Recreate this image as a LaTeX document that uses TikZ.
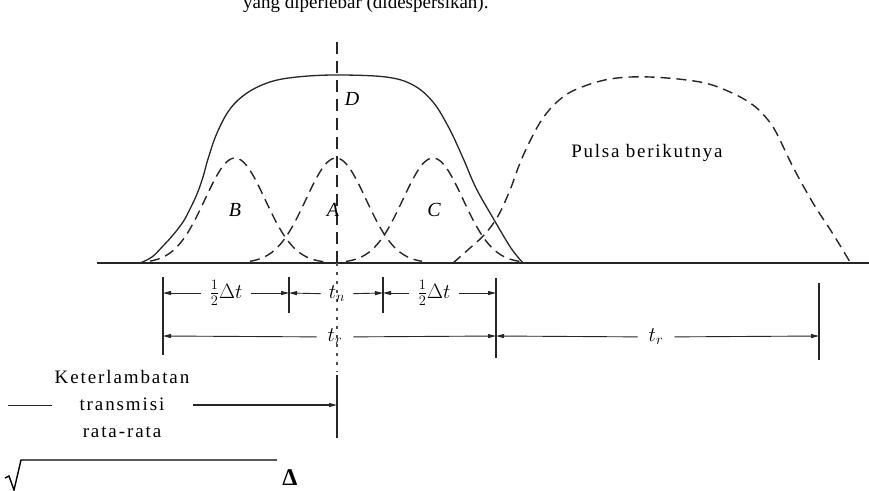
\documentclass[tikz,border=0pt]{standalone}
\usepackage{fontspec}
\setmainfont{Liberation Serif}
\usetikzlibrary{arrows.meta}
\begin{document}
\begin{tikzpicture}[x=1pt,y=-1pt,
  pulseline/.style={line width=1.3pt, black!85},
  dashcurve/.style={line width=1.4pt, black!85, dash pattern=on 10pt off 6pt},
  axisline/.style={line width=1.5pt, black!85},
  tickline/.style={line width=1.2pt, black!85},
  dimarrow/.style={line width=0.9pt, black!85, -{Triangle[length=8pt,width=4pt]}},
  lbl/.style={font=\fontsize{20}{22}\selectfont\itshape, inner sep=0pt},
  dimlbl/.style={font=\fontsize{21}{23}\selectfont, inner ysep=2pt, inner xsep=8pt},
  txt/.style={font=\fontsize{19}{27}\selectfont\addfontfeatures{LetterSpace=10}, align=center, inner sep=1pt}
]
\useasboundingbox (0,0) rectangle (869,490);
\fill[white] (0,0) rectangle (869,490);

% clipped heading line of the page
\node[anchor=base west, inner sep=0pt, font=\fontsize{19}{22}\selectfont] (head) at (243,8) {yang diperlebar (didespersikan).};

% baseline
\coordinate (b0) at (97,263);
\coordinate (b1) at (869,263);
\draw[axisline] (b0) -- (b1);

% centre line
\coordinate (c0) at (337,42);
\coordinate (c1) at (337,263);
\coordinate (c2) at (337,372);
\draw[line width=1.1pt, black!85, dash pattern=on 12pt off 7pt] (c0) -- (c1);
\draw[line width=1.1pt, black!70, dash pattern=on 3pt off 6pt] (c1) -- (c2);

% envelope D
\draw[pulseline] plot[smooth, tension=0.6] coordinates {
 (140,263) (152,257) (163,246) (173,235) (183,222) (190,209) (197,194) (203,177)
 (208,159) (217,133) (230,109) (247,93) (270,82) (297,77) (336,75)
 (386,77) (413,85) (433,102) (449,128) (463,158) (476,188) (493,218)
 (509,245) (517,256) (523,263)};

% component pulses B, A, C
\draw[dashcurve] plot[domain=150:325, samples=70, smooth] (\x, {263-105*exp(-((\x-235)^2)/1800)});
\draw[dashcurve] plot[domain=250:422, samples=70, smooth] (\x, {263-105*exp(-((\x-336)^2)/1800)});
\draw[dashcurve] plot[domain=346:522, samples=70, smooth] (\x, {263-105*exp(-((\x-433)^2)/1800)});

% next pulse
\draw[dashcurve] plot[smooth, tension=0.6] coordinates {
 (453,263) (470,248) (485,234) (498,216) (510,190) (520,163) (531,139) (543,118)
 (558,101) (577,89) (610,79) (650,77) (700,82) (730,92) (753,105) (768,120)
 (777,134) (793,167) (813,203) (833,234) (850,262)};

% curve labels
\node[lbl] (lD) at (352,99) {D};
\node[lbl] (lB) at (235,210) {B};
\node[lbl] (lA) at (333,210) {A};
\node[lbl] (lC) at (434,210) {C};
\node[font=\fontsize{19}{22}\selectfont\addfontfeatures{LetterSpace=9}, inner sep=0pt] (next) at (647,153) {Pulsa berikutnya};

% ticks
\coordinate (t1a) at (163,277); \coordinate (t1b) at (163,355);
\coordinate (t2a) at (289,277); \coordinate (t2b) at (289,313);
\coordinate (t3a) at (383,277); \coordinate (t3b) at (383,313);
\coordinate (t4a) at (496,278); \coordinate (t4b) at (496,358);
\coordinate (t5a) at (819,283); \coordinate (t5b) at (819,360);
\draw[tickline] (t1a) -- (t1b);
\draw[tickline] (t2a) -- (t2b);
\draw[tickline] (t3a) -- (t3b);
\draw[tickline] (t4a) -- (t4b);
\draw[tickline] (t5a) -- (t5b);

% row 1
\coordinate (r1a) at (163,293); \coordinate (r1b) at (289,293);
\coordinate (r1c) at (383,293); \coordinate (r1d) at (496,293);
\node[dimlbl] (h1) at (226,293) {$\frac{1}{2}\Delta t$};
\node[dimlbl] (tn) at (337,294) {$t_n$};
\node[dimlbl] (h2) at (434,293) {$\frac{1}{2}\Delta t$};
\draw[dimarrow] (h1) -- (r1a);
\draw[dimarrow] (h1) -- (r1b);
\draw[dimarrow] (tn) -- (r1b);
\draw[dimarrow] (tn) -- (r1c);
\draw[dimarrow] (h2) -- (r1c);
\draw[dimarrow] (h2) -- (r1d);

% row 2
\coordinate (r2a) at (163,336); \coordinate (r2b) at (496,336); \coordinate (r2c) at (819,336);
\node[dimlbl, inner xsep=11pt] (tr1) at (335,337) {$t_r$};
\node[dimlbl, inner xsep=11pt] (tr2) at (656,337) {$t_r$};
\draw[dimarrow] (tr1) -- (r2a);
\draw[dimarrow] (tr1) -- (r2b);
\draw[dimarrow] (tr2) -- (r2b);
\draw[dimarrow] (tr2) -- (r2c);

% average transmission delay
\node[txt] (delay) at (122,404) {Keterlambatan\\transmisi\\rata-rata};
\coordinate (dl0) at (8,405);
\coordinate (dl1) at (52,405);
\coordinate (dt) at (337,405);
\coordinate (dta) at (337,375); \coordinate (dtb) at (337,438);
\draw[line width=1pt, black!85] (dl0) -- (dl1);
\draw[dimarrow, line width=1.1pt] (delay.east |- dt) ++(2,0) -- (dt);
\draw[tickline] (dta) -- (dtb);

% stray formula fragment at the bottom
\coordinate (s0) at (5,478);
\coordinate (s1) at (9,476);
\coordinate (s2) at (14,490);
\coordinate (s3) at (21,460);
\coordinate (s4) at (277,460);
\draw[line width=1.4pt, black] (s0) -- (s1) -- (s2) -- (s3) -- (s4);
\node[font=\fontsize{24}{26}\selectfont\bfseries, inner sep=0pt, anchor=base] (delta) at (290,485) {Δ};
\end{tikzpicture}
\end{document}
